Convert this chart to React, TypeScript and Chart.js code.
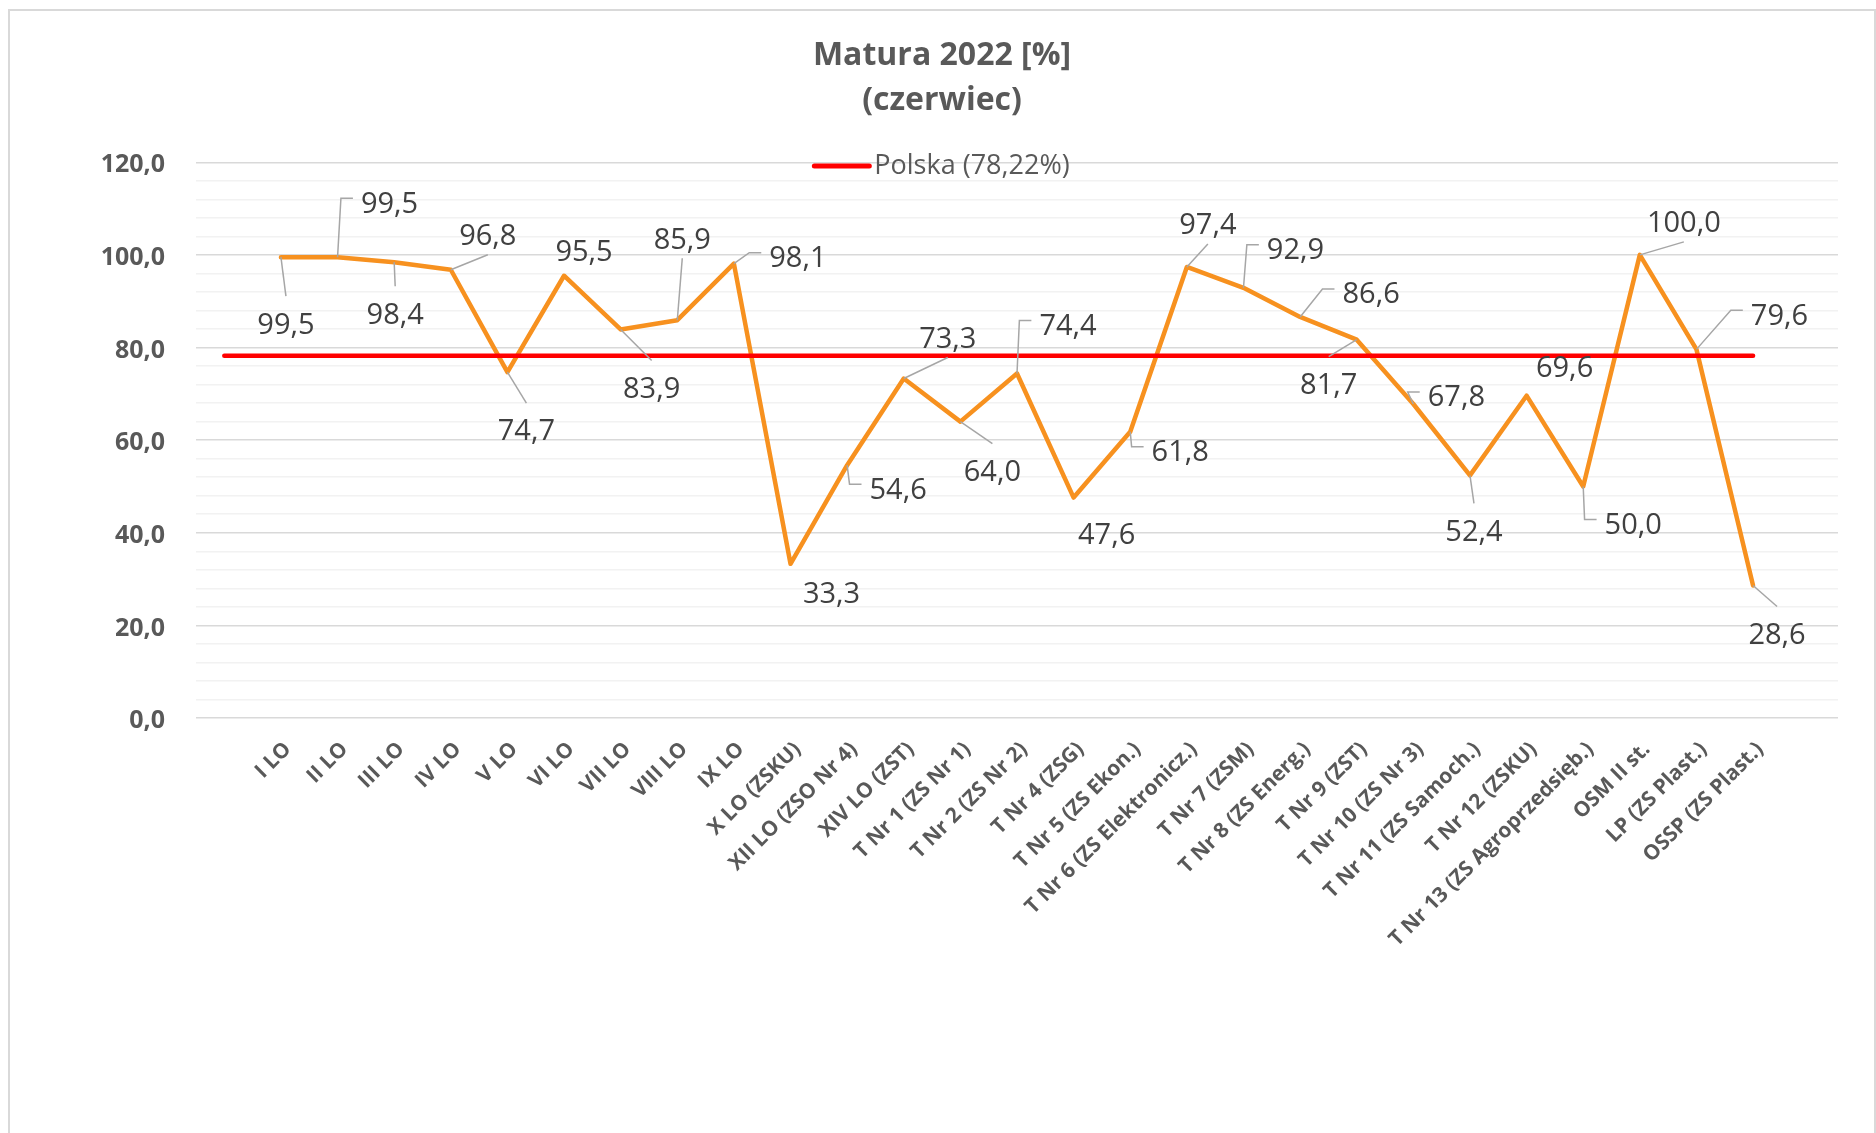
import React, { useEffect, useRef } from 'react';
import { Chart, registerables } from 'chart.js';

Chart.register(...registerables);

// ---- data ----
const CATEGORIES: string[] = [
  '',
  'I LO', 'II LO', 'III LO', 'IV LO', 'V LO', 'VI LO', 'VII LO', 'VIII LO', 'IX LO',
  'X LO (ZSKU)', 'XII LO (ZSO Nr 4)', 'XIV LO (ZST)',
  'T Nr 1 (ZS Nr 1)', 'T Nr 2 (ZS Nr 2)', 'T Nr 4 (ZSG)', 'T Nr 5 (ZS Ekon.)',
  'T Nr 6 (ZS Elektronicz.)', 'T Nr 7 (ZSM)', 'T Nr 8 (ZS Energ.)', 'T Nr 9 (ZST)',
  'T Nr 10 (ZS Nr 3)', 'T Nr 11 (ZS Samoch.)', 'T Nr 12 (ZSKU)', 'T Nr 13 (ZS Agroprzedsięb.)',
  'OSM II st.', 'LP (ZS Plast.)', 'OSSP (ZS Plast.)',
  '',
];

const SCHOOL_RESULTS: (number | null)[] = [
  null,
  99.5, 99.5, 98.4, 96.8, 74.7, 95.5, 83.9, 85.9, 98.1,
  33.3, 54.6, 73.3,
  64.0, 74.4, 47.6, 61.8,
  97.4, 92.9, 86.6, 81.7,
  67.8, 52.4, 69.6, 50.0,
  100.0, 79.6, 28.6,
  null,
];

const POLSKA_RESULTS: (number | null)[] = [
  78.22, 78.22, 78.22, 78.22, 78.22, 78.22, 78.22, 78.22, 78.22, 78.22,
  78.22, 78.22, 78.22, 78.22, 78.22, 78.22, 78.22, 78.22, 78.22, 78.22,
  78.22, 78.22, 78.22, 78.22, 78.22, 78.22, 78.22, 78.22,
  null,
];

const POLSKA_LABEL = 'Polska (78,22%)';
const TITLE_LINES = ['Matura 2022 [%]', '(czerwiec)'];

const Y_MIN = 0;
const Y_MAX = 120;
const Y_MINOR_STEP = 4;
const Y_MAJOR_STEP = 20;

// label placement (pixel offset of each value label from its point) and leader style
// leader: 0 = none, 1 = straight to top/bottom edge, 2 = elbow to left edge
const LABEL_OFFSETS: ([number, number] | null)[] = [
  null,
  [5, 66], [52, -55], [1, 51], [37, -35], [19, 58], [20, -25], [31, 58], [5, -82], [64, -7],
  [41, 29], [51, 23], [44, -41],
  [32, 49], [51, -49], [33, 36], [50, 19],
  [21, -43], [52, -39], [71, -24], [-28, 44],
  [43, -8], [4, 55], [38, -29], [50, 37],
  [44, -33], [83, -35], [24, 48],
  null,
];
const LEADER_TYPES: number[] = [
  0,
  1, 2, 1, 1, 1, 0, 1, 1, 2,
  0, 2, 1,
  1, 2, 0, 2,
  1, 2, 2, 1,
  2, 1, 0, 2,
  1, 2, 1,
  0,
];

const GREY_TEXT = '#595959';
const LABEL_TEXT = '#404040';
const ORANGE = '#F7911F';
const RED = '#FF0000';
const FONT = '"Open Sans", "DejaVu Sans", sans-serif';

const fmt = (v: number) => v.toFixed(1).replace('.', ',');

const valueLabelsPlugin = {
  id: 'valueLabels',
  afterDatasetsDraw(chart: any) {
    const ctx = chart.ctx as CanvasRenderingContext2D;
    const meta = chart.getDatasetMeta(1);
    const data = chart.data.datasets[1].data as (number | null)[];
    const size = 29;
    ctx.save();
    ctx.font = `${size}px ${FONT}`;
    meta.data.forEach((pt: any, i: number) => {
      const v = data[i];
      const off = LABEL_OFFSETS[i];
      if (v == null || !off) return;
      const text = fmt(v);
      const w = ctx.measureText(text).width;
      const cx = pt.x + off[0];
      const cy = pt.y + off[1];
      const top = cy - 27;
      const bottom = cy + 20;
      const mid = cy - 4;
      const left = cx - w / 2 - 8;
      ctx.strokeStyle = '#A6A6A6';
      ctx.lineWidth = 1.5;
      const kind = LEADER_TYPES[i];
      if (kind === 1) {
        const ey = pt.y < cy ? top : bottom;
        ctx.beginPath();
        ctx.moveTo(pt.x, pt.y);
        ctx.lineTo(cx, ey);
        ctx.stroke();
      } else if (kind === 2) {
        ctx.beginPath();
        ctx.moveTo(pt.x, pt.y);
        ctx.lineTo(left - 12, mid);
        ctx.lineTo(left, mid);
        ctx.stroke();
      }
      ctx.fillStyle = LABEL_TEXT;
      ctx.textAlign = 'center';
      ctx.textBaseline = 'alphabetic';
      ctx.fillText(text, cx, cy + 0.357 * size);
    });
    ctx.restore();
  },
};

const legendPlugin = {
  id: 'insideLegend',
  afterDraw(chart: any) {
    const ctx = chart.ctx as CanvasRenderingContext2D;
    const area = chart.chartArea;
    const size = 27;
    ctx.save();
    ctx.font = `${size}px ${FONT}`;
    const w = ctx.measureText(POLSKA_LABEL).width;
    const lineLen = 55;
    const gap = 5;
    const total = lineLen + gap + w;
    const x0 = chart.width / 2 - total / 2;
    const y = area.top + 3.7;
    ctx.strokeStyle = RED;
    ctx.lineWidth = 5;
    ctx.lineCap = 'round';
    ctx.beginPath();
    ctx.moveTo(x0, y);
    ctx.lineTo(x0 + lineLen, y);
    ctx.stroke();
    ctx.fillStyle = GREY_TEXT;
    ctx.textAlign = 'left';
    ctx.textBaseline = 'alphabetic';
    ctx.fillText(POLSKA_LABEL, x0 + lineLen + gap, y - 2 + 0.357 * size);
    ctx.restore();
  },
};

export default function App() {
  const canvasRef = useRef<HTMLCanvasElement | null>(null);

  useEffect(() => {
    const canvas = canvasRef.current;
    if (!canvas) return;
    const chart = new Chart(canvas, {
      type: 'line',
      data: {
        labels: CATEGORIES,
        datasets: [
          {
            label: POLSKA_LABEL,
            data: POLSKA_RESULTS,
            borderColor: RED,
            backgroundColor: RED,
            borderWidth: 4.5,
            borderCapStyle: 'round',
            pointRadius: 0,
            pointHoverRadius: 0,
            spanGaps: false,
          },
          {
            label: 'Matura 2022',
            data: SCHOOL_RESULTS,
            borderColor: ORANGE,
            backgroundColor: ORANGE,
            borderWidth: 4.5,
            borderJoinStyle: 'round',
            borderCapStyle: 'round',
            pointRadius: 0,
            pointHoverRadius: 0,
            tension: 0,
          },
        ],
      },
      options: {
        responsive: false,
        animation: false,
        layout: { padding: { left: 36, right: 36, top: 0, bottom: 0 } },
        plugins: {
          legend: { display: false },
          tooltip: { enabled: false },
          title: {
            display: true,
            text: TITLE_LINES,
            color: GREY_TEXT,
            font: { family: FONT, size: 32, weight: 'bold', lineHeight: 1.42 },
            padding: { top: 22, bottom: 38.4 },
          },
        },
        scales: {
          x: {
            type: 'category',
            offset: true,
            grid: { display: false, drawTicks: false },
            border: { display: false },
            ticks: {
              autoSkip: false,
              minRotation: 45,
              maxRotation: 45,
              padding: 19,
              labelOffset: 7,
              color: GREY_TEXT,
              font: { family: FONT, size: 21, weight: 'bold' },
            },
            afterFit: (scale: any) => {
              scale.height = 429;
            },
          },
          y: {
            min: Y_MIN,
            max: Y_MAX,
            grid: {
              drawTicks: false,
              lineWidth: 1.5,
              color: (c: any) =>
                c.tick && c.tick.value % Y_MAJOR_STEP === 0 ? '#D9D9D9' : '#F2F2F2',
            },
            border: { display: false },
            ticks: {
              stepSize: Y_MINOR_STEP,
              autoSkip: false,
              padding: 31,
              labelOffset: 3,
              color: GREY_TEXT,
              font: { family: FONT, size: 25, weight: 'bold' },
              callback: (value: any) =>
                Number(value) % Y_MAJOR_STEP === 0 ? fmt(Number(value)) : '',
            },
            afterFit: (scale: any) => {
              scale.width = 150;
            },
          },
        },
      },
      plugins: [valueLabelsPlugin, legendPlugin],
    } as any);
    return () => chart.destroy();
  }, []);

  return (
    <div
      style={{
        position: 'fixed',
        left: 8,
        top: 9,
        width: 1868,
        height: 1140,
        border: '2px solid #D9D9D9',
        boxSizing: 'border-box',
        background: '#FFFFFF',
      }}
    >
      <canvas
        ref={canvasRef}
        width={1864}
        height={1136}
        style={{ display: 'block', width: 1864, height: 1136 }}
      />
    </div>
  );
}
